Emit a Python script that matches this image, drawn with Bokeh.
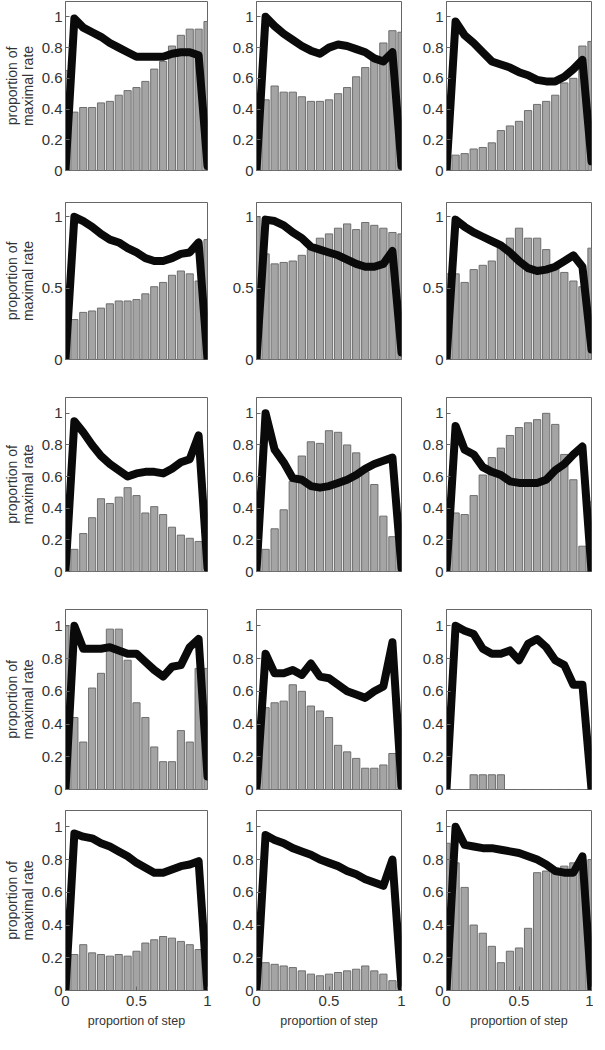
from bokeh.plotting import figure
from bokeh.layouts import gridplot
from bokeh.models import Range1d, FixedTicker, CustomJSTickFormatter
from bokeh.embed import file_html
from bokeh.resources import INLINE

# ---------------- data ----------------
N_BINS = 16
positions = [k / N_BINS for k in range(N_BINS + 1)]   # proportion of step

bars_r1c1 = [0.65, 0.38, 0.41, 0.41, 0.44, 0.45, 0.49, 0.52, 0.54, 0.58, 0.66, 0.71, 0.81, 0.88, 0.92, 0.92, 0.97]
line_r1c1 = [0.0, 0.99, 0.93, 0.90, 0.87, 0.83, 0.80, 0.77, 0.74, 0.74, 0.74, 0.74, 0.76, 0.77, 0.77, 0.75, 0.03]
bars_r1c2 = [0.45, 0.46, 0.55, 0.51, 0.51, 0.48, 0.45, 0.45, 0.46, 0.50, 0.54, 0.61, 0.67, 0.72, 0.83, 0.91, 0.90]
line_r1c2 = [0.0, 1.0, 0.94, 0.89, 0.85, 0.81, 0.78, 0.76, 0.80, 0.82, 0.81, 0.79, 0.77, 0.73, 0.71, 0.77, 0.03]
bars_r1c3 = [0.10, 0.10, 0.11, 0.14, 0.15, 0.18, 0.26, 0.29, 0.32, 0.39, 0.43, 0.45, 0.49, 0.57, 0.60, 0.81, 0.84]
line_r1c3 = [0.0, 0.97, 0.88, 0.83, 0.77, 0.71, 0.69, 0.67, 0.64, 0.62, 0.59, 0.58, 0.58, 0.61, 0.66, 0.72, 0.06]

bars_r2c1 = [0.30, 0.28, 0.33, 0.34, 0.36, 0.39, 0.41, 0.41, 0.42, 0.46, 0.51, 0.54, 0.59, 0.62, 0.60, 0.55, 0.84]
line_r2c1 = [0.0, 1.0, 0.97, 0.93, 0.88, 0.84, 0.82, 0.78, 0.75, 0.71, 0.69, 0.69, 0.71, 0.74, 0.75, 0.82, 0.0]
bars_r2c2 = [1.0, 0.74, 0.67, 0.68, 0.69, 0.73, 0.77, 0.85, 0.88, 0.92, 0.95, 0.91, 0.96, 0.94, 0.92, 0.89, 0.88]
line_r2c2 = [0.0, 0.98, 0.97, 0.94, 0.89, 0.85, 0.79, 0.77, 0.75, 0.73, 0.70, 0.67, 0.65, 0.65, 0.67, 0.76, 0.05]
bars_r2c3 = [0.60, 0.60, 0.54, 0.63, 0.66, 0.69, 0.78, 0.85, 0.92, 0.85, 0.85, 0.77, 0.66, 0.61, 0.55, 0.51, 0.78]
line_r2c3 = [0.0, 0.98, 0.93, 0.89, 0.86, 0.83, 0.80, 0.75, 0.69, 0.64, 0.62, 0.63, 0.65, 0.69, 0.73, 0.65, 0.07]

bars_r3c1 = [0.0, 0.14, 0.24, 0.34, 0.46, 0.43, 0.47, 0.53, 0.48, 0.37, 0.41, 0.36, 0.28, 0.23, 0.21, 0.19, 0.20]
line_r3c1 = [0.0, 0.95, 0.88, 0.80, 0.73, 0.68, 0.64, 0.60, 0.62, 0.63, 0.63, 0.62, 0.65, 0.69, 0.71, 0.86, 0.02]
bars_r3c2 = [0.0, 0.14, 0.27, 0.39, 0.57, 0.73, 0.82, 0.81, 0.89, 0.88, 0.80, 0.75, 0.63, 0.55, 0.35, 0.22, 0.20]
line_r3c2 = [0.0, 1.0, 0.77, 0.69, 0.59, 0.58, 0.54, 0.53, 0.54, 0.56, 0.58, 0.61, 0.65, 0.68, 0.70, 0.72, 0.02]
bars_r3c3 = [0.0, 0.37, 0.36, 0.48, 0.61, 0.72, 0.78, 0.86, 0.91, 0.94, 0.96, 1.0, 0.93, 0.74, 0.58, 0.16, 0.44]
line_r3c3 = [0.0, 0.92, 0.77, 0.74, 0.66, 0.63, 0.61, 0.57, 0.56, 0.56, 0.56, 0.58, 0.64, 0.68, 0.74, 0.79, 0.0]

bars_r4c1 = [1.0, 0.44, 0.29, 0.62, 0.71, 0.98, 0.98, 0.79, 0.53, 0.44, 0.26, 0.17, 0.17, 0.36, 0.29, 0.74, 0.74]
line_r4c1 = [0.0, 1.0, 0.86, 0.86, 0.86, 0.87, 0.85, 0.83, 0.83, 0.78, 0.73, 0.69, 0.75, 0.76, 0.87, 0.92, 0.08]
bars_r4c2 = [0.0, 0.50, 0.53, 0.54, 0.64, 0.60, 0.51, 0.48, 0.44, 0.27, 0.23, 0.19, 0.13, 0.13, 0.15, 0.22, 0.20]
line_r4c2 = [0.0, 0.83, 0.71, 0.71, 0.73, 0.70, 0.77, 0.69, 0.68, 0.64, 0.60, 0.58, 0.56, 0.60, 0.63, 0.90, 0.02]
bars_r4c3 = [0.0, 0.0, 0.0, 0.09, 0.09, 0.09, 0.09, 0.0, 0.0, 0.0, 0.0, 0.0, 0.0, 0.0, 0.0, 0.0, 0.0]
line_r4c3 = [0.0, 1.0, 0.97, 0.95, 0.86, 0.83, 0.83, 0.85, 0.79, 0.89, 0.92, 0.87, 0.79, 0.76, 0.64, 0.64, 0.0]

bars_r5c1 = [0.25, 0.22, 0.28, 0.23, 0.22, 0.21, 0.22, 0.21, 0.24, 0.29, 0.31, 0.33, 0.32, 0.30, 0.28, 0.25, 0.27]
line_r5c1 = [0.0, 0.96, 0.94, 0.93, 0.90, 0.88, 0.85, 0.82, 0.78, 0.75, 0.72, 0.72, 0.74, 0.76, 0.77, 0.79, 0.0]
bars_r5c2 = [0.0, 0.17, 0.16, 0.15, 0.14, 0.12, 0.10, 0.09, 0.10, 0.11, 0.12, 0.13, 0.15, 0.12, 0.10, 0.06, 0.04]
line_r5c2 = [0.0, 0.95, 0.92, 0.90, 0.87, 0.85, 0.83, 0.80, 0.78, 0.76, 0.73, 0.71, 0.68, 0.66, 0.64, 0.80, 0.02]
bars_r5c3 = [0.90, 0.78, 0.63, 0.40, 0.35, 0.27, 0.17, 0.24, 0.26, 0.38, 0.72, 0.73, 0.74, 0.76, 0.78, 0.80, 0.80]
line_r5c3 = [0.0, 1.0, 0.89, 0.88, 0.87, 0.87, 0.86, 0.85, 0.84, 0.82, 0.80, 0.77, 0.73, 0.72, 0.72, 0.82, 0.0]

yticks_fine = [0, 0.2, 0.4, 0.6, 0.8, 1]
yticks_coarse = [0, 0.5, 1]
xticks = [0, 0.5, 1]
y_label = "proportion of\nmaximal rate"
x_label = "proportion of step"

panels = [
    [(bars_r1c1, line_r1c1), (bars_r1c2, line_r1c2), (bars_r1c3, line_r1c3)],
    [(bars_r2c1, line_r2c1), (bars_r2c2, line_r2c2), (bars_r2c3, line_r2c3)],
    [(bars_r3c1, line_r3c1), (bars_r3c2, line_r3c2), (bars_r3c3, line_r3c3)],
    [(bars_r4c1, line_r4c1), (bars_r4c2, line_r4c2), (bars_r4c3, line_r4c3)],
    [(bars_r5c1, line_r5c1), (bars_r5c2, line_r5c2), (bars_r5c3, line_r5c3)],
]
row_yticks = [yticks_fine, yticks_coarse, yticks_fine, yticks_fine, yticks_fine]

# ---------------- layout ----------------
FW = [142, 145, 145]
BL = [62, 30, 29]
BR = [19, 16, 2]
FH = [169, 157, 174, 180, 180]
BT = [1, 10, 10, 10, 10]
BB = [22, 28, 28, 11, 42]

FONT = "Liberation Sans"
TXT = "#333333"
EDGE = "#666666"

fmt_code = "return String(Math.round(tick*10)/10);"


def style_axis(ax):
    ax.formatter = CustomJSTickFormatter(code=fmt_code)
    ax.major_tick_in = 4
    ax.major_tick_out = 0
    ax.minor_tick_line_color = None
    ax.axis_line_color = EDGE
    ax.major_tick_line_color = EDGE
    ax.major_label_text_font = FONT
    ax.major_label_text_font_size = "15px"
    ax.major_label_text_color = TXT
    ax.major_label_standoff = 3
    ax.axis_label_text_font = FONT
    ax.axis_label_text_font_style = "normal"
    ax.axis_label_text_color = TXT


def make_panel(bars, line, r, c):
    p = figure(frame_width=FW[c], frame_height=FH[r],
               x_range=Range1d(0, 1), y_range=Range1d(0, 1.1),
               output_backend="svg", toolbar_location=None,
               min_border_left=BL[c], min_border_right=BR[c],
               min_border_top=BT[r], min_border_bottom=BB[r],
               background_fill_color="white", border_fill_color="white")
    p.vbar(x=positions, top=bars, width=0.05, bottom=0,
           fill_color="#a4a4a4", line_color="#6e6e6e", line_width=1)
    p.line(positions, line, line_color="#0a0a0a", line_width=8,
           line_join="round", line_cap="round")
    p.xgrid.visible = False
    p.ygrid.visible = False
    p.outline_line_color = EDGE
    p.outline_line_width = 1
    p.xaxis.ticker = FixedTicker(ticks=xticks)
    p.yaxis.ticker = FixedTicker(ticks=row_yticks[r])
    style_axis(p.xaxis[0])
    style_axis(p.yaxis[0])
    if r < 4:
        p.xaxis.visible = False
    else:
        p.xaxis.axis_label = x_label
        p.xaxis.axis_label_text_font_size = "12.5px"
        p.xaxis.axis_label_standoff = 5
        p.xaxis.major_label_standoff = 5
    if c == 0:
        p.yaxis.axis_label = y_label
        p.yaxis.axis_label_text_font_size = "14px"
        p.yaxis.axis_label_text_line_height = 1.0
        p.yaxis.axis_label_standoff = 3
    return p


figs = [[make_panel(b, l, r, c) for c, (b, l) in enumerate(row)]
        for r, row in enumerate(panels)]

grid = gridplot(figs, toolbar_location=None)

open("out.html", "w").write(file_html(grid, INLINE))
